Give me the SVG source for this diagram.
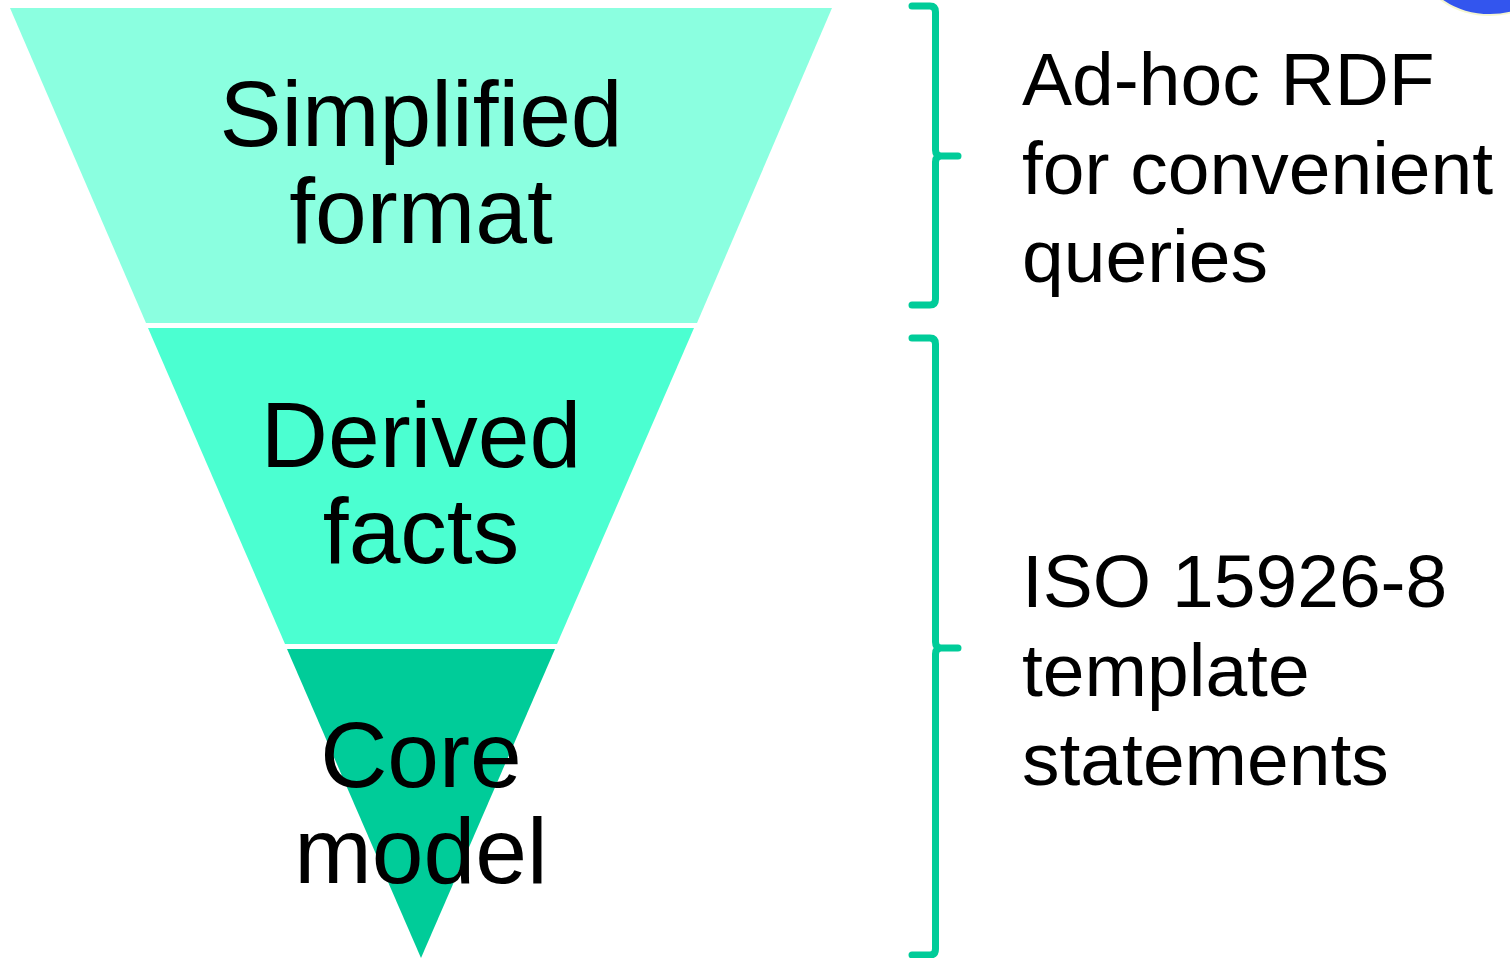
<svg xmlns="http://www.w3.org/2000/svg" width="1510" height="958" viewBox="0 0 1510 958">
  <style>
    .lbl { font-family: "Liberation Sans", Arial, sans-serif; font-size: 93px; fill: #000; text-anchor: middle; }
    .note { font-family: "Liberation Sans", Arial, sans-serif; font-size: 75px; fill: #000; }
    .brace { fill: none; stroke: #00CC99; stroke-width: 7; stroke-linecap: round; stroke-linejoin: round; }
  </style>
  <rect width="1510" height="958" fill="#ffffff"/>

  <!-- corner decoration -->
  <ellipse cx="1490" cy="-30" rx="66" ry="46" fill="#F4F6D0"/>
  <ellipse cx="1490" cy="-30" rx="64" ry="44" fill="#3355EE"/>

  <!-- funnel layers -->
  <g id="layer-simplified">
    <polygon points="10,8 832,8 697,323 146,323" fill="#8BFFE0"/>
    <text class="lbl" x="421" y="146">Simplified</text>
    <text class="lbl" x="421" y="243">format</text>
  </g>
  <g id="layer-derived">
    <polygon points="148,328 694,328 557,644 285,644" fill="#4BFFD1"/>
    <text class="lbl" x="421" y="467">Derived</text>
    <text class="lbl" x="421" y="563">facts</text>
  </g>
  <g id="layer-core">
    <polygon points="287,649 555,649 421,958" fill="#00CC99"/>
    <text class="lbl" x="421" y="787">Core</text>
    <text class="lbl" x="421" y="883">model</text>
  </g>

  <!-- braces -->
  <g id="connectors">
    <path class="brace" d="M912,6 H930 Q935.5,6 935.5,12 V150 Q935.5,156 941,156 H958 M941,156 Q935.5,156 935.5,162 V299 Q935.5,305 930,305 H912"/>
    <path class="brace" d="M912,338 H930 Q935.5,338 935.5,344 V642 Q935.5,648 941,648 H958 M941,648 Q935.5,648 935.5,654 V949 Q935.5,955 930,955 H912"/>
  </g>

  <g id="note-adhoc">
    <text class="note" x="1022" y="105">Ad-hoc RDF</text>
    <text class="note" x="1022" y="194">for convenient</text>
    <text class="note" x="1022" y="282">queries</text>
  </g>
  <g id="note-iso">
    <text class="note" x="1022" y="607">ISO 15926-8</text>
    <text class="note" x="1022" y="696">template</text>
    <text class="note" x="1022" y="785">statements</text>
  </g>
</svg>
